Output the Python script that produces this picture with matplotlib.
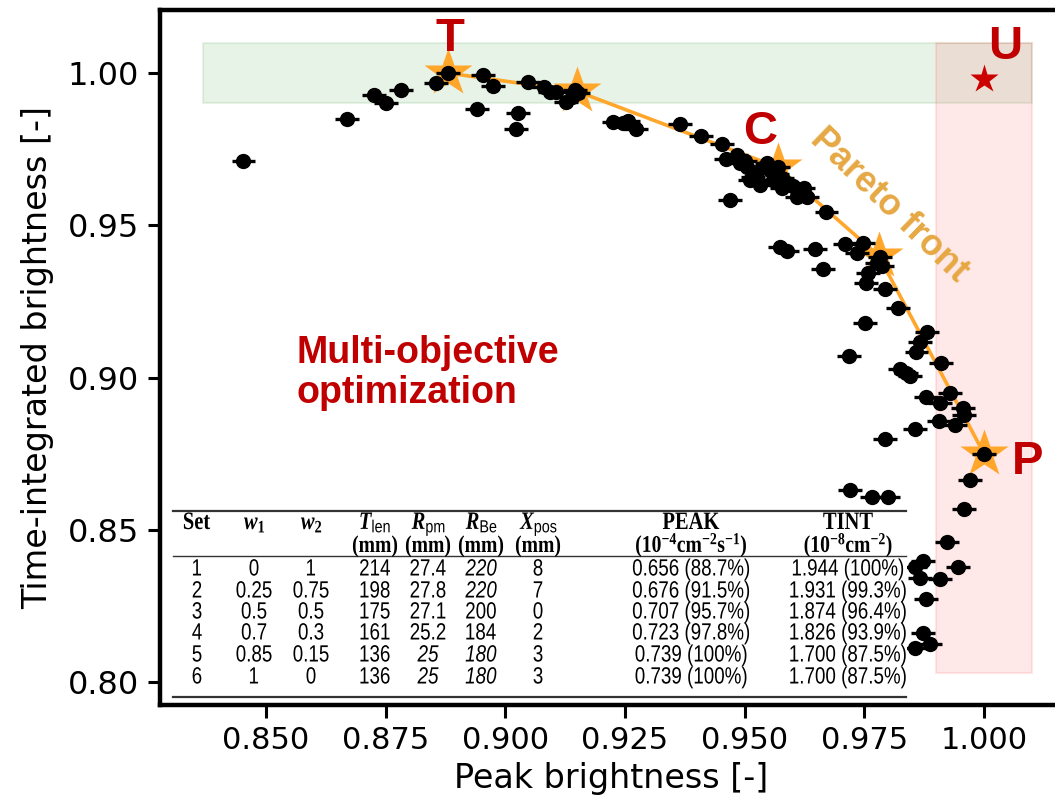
import matplotlib
matplotlib.use("Agg")
import matplotlib.pyplot as plt
from matplotlib.patches import Rectangle, PathPatch
from matplotlib.lines import Line2D
from matplotlib.textpath import TextPath
from matplotlib.font_manager import FontProperties
from matplotlib.transforms import Affine2D, IdentityTransform

plt.rcParams['mathtext.fontset'] = 'custom'
plt.rcParams['mathtext.rm'] = 'Liberation Serif:bold'
plt.rcParams['mathtext.it'] = 'Liberation Serif:bold:italic'
plt.rcParams['mathtext.bf'] = 'Liberation Serif:bold'
plt.rcParams['mathtext.sf'] = 'Liberation Sans'

# ---------------- data ----------------
peak = [0.8453, 0.8669, 0.8726, 0.8750, 0.8783, 0.8855, 0.8880,
        0.8954, 0.8975, 0.8940, 0.9026, 0.9022, 0.9048, 0.9081, 0.9093, 0.9106,
        0.9127, 0.9146, 0.9152, 0.9140,
        0.9226, 0.9245, 0.9257, 0.9274, 0.9365, 0.9408, 0.9452,
        0.9462, 0.9483, 0.9490, 0.9504, 0.9518, 0.9511, 0.9532, 0.9546, 0.9553,
        0.9567, 0.9578, 0.9578, 0.9588, 0.9609, 0.9623, 0.9630, 0.9609, 0.9470,
        0.9500, 0.9540, 0.9560, 0.9600, 0.9620, 0.9570, 0.9525,
        0.9671, 0.9574, 0.9588, 0.9647, 0.9664, 0.9710, 0.9747, 0.9734,
        0.9783, 0.9786, 0.9776, 0.9758, 0.9753, 0.9794, 0.9821, 0.9751, 0.9880,
        0.9866, 0.9859, 0.9718, 0.9911, 0.9824, 0.9845, 0.9838, 0.9878, 0.9929,
        0.9908, 0.9957, 0.9958, 0.9906, 0.9939, 0.9855, 0.9793, 1.0000, 0.9971,
        0.9721, 0.9767, 0.9800, 0.9958, 0.9922, 0.9873, 0.9856, 0.9946, 0.9866,
        0.9908, 0.9879, 0.9872, 0.9888, 0.9856]
tint = [0.9712, 0.9849, 0.9928, 0.9902, 0.9944, 0.9966, 1.0000,
        0.9993, 0.9957, 0.9881, 0.9870, 0.9815, 0.9969, 0.9953, 0.9939, 0.9939,
        0.9906, 0.9944, 0.9933, 0.9920,
        0.9840, 0.9837, 0.9842, 0.9815, 0.9833, 0.9793, 0.9766,
        0.9717, 0.9731, 0.9703, 0.9692, 0.9660, 0.9649, 0.9632, 0.9703, 0.9681,
        0.9670, 0.9654, 0.9621, 0.9638, 0.9616, 0.9621, 0.9594, 0.9594, 0.9583,
        0.9710, 0.9690, 0.9650, 0.9630, 0.9600, 0.9690, 0.9675,
        0.9543, 0.9430, 0.9417, 0.9422, 0.9356, 0.9439, 0.9441, 0.9408,
        0.9397, 0.9365, 0.9375, 0.9342, 0.9309, 0.9290, 0.9227, 0.9180, 0.9150,
        0.9118, 0.9085, 0.9071, 0.9049, 0.9027, 0.9005, 0.9014, 0.8937, 0.8948,
        0.8915, 0.8899, 0.8877, 0.8857, 0.8844, 0.8830, 0.8797, 0.8749, 0.8665,
        0.8630, 0.8609, 0.8606, 0.8567, 0.8459, 0.8398, 0.8379, 0.8379, 0.8343,
        0.8338, 0.8272, 0.8160, 0.8125, 0.8111]
peak_err = 0.0025

pareto_peak = [0.888, 0.915, 0.957, 0.978, 1.000]
pareto_tint = [1.000, 0.994, 0.969, 0.940, 0.875]
utopia = (1.000, 0.998)

green_band = dict(x0=0.8368, x1=1.010, y0=0.990, y1=1.010)
red_band = dict(x0=0.990, x1=1.010, y0=0.803, y1=1.010)

xticks = [0.850, 0.875, 0.900, 0.925, 0.950, 0.975, 1.000]
yticks = [0.80, 0.85, 0.90, 0.95, 1.00]

table_header1 = ['Set', r'$w_1$', r'$w_2$', r'$T_{\mathsf{len}}$', r'$R_{\mathsf{pm}}$',
                 r'$R_{\mathsf{Be}}$', r'$X_{\mathsf{pos}}$', 'PEAK', 'TINT']
table_header2 = ['', '', '', '(mm)', '(mm)', '(mm)', '(mm)',
                 r'(10$^{-4}$cm$^{-2}$s$^{-1}$)', r'(10$^{-8}$cm$^{-2}$)']
table_rows = [
    ['1', '0', '1', '214', '27.4', '220', '8', '0.656 (88.7%)', '1.944 (100%)'],
    ['2', '0.25', '0.75', '198', '27.8', '220', '7', '0.676 (91.5%)', '1.931 (99.3%)'],
    ['3', '0.5', '0.5', '175', '27.1', '200', '0', '0.707 (95.7%)', '1.874 (96.4%)'],
    ['4', '0.7', '0.3', '161', '25.2', '184', '2', '0.723 (97.8%)', '1.826 (93.9%)'],
    ['5', '0.85', '0.15', '136', '25', '180', '3', '0.739 (100%)', '1.700 (87.5%)'],
    ['6', '1', '0', '136', '25', '180', '3', '0.739 (100%)', '1.700 (87.5%)'],
]
table_italic = [
    [False, False, False, False, False, True, False, False, False],
    [False, False, False, False, False, True, False, False, False],
    [False] * 9,
    [False] * 9,
    [False, False, False, False, True, True, False, False, False],
    [False, False, False, False, True, True, False, False, False],
]

# ---------------- figure ----------------
W, H = 1055, 800
fig = plt.figure(figsize=(W / 100, H / 100), dpi=100)
ax = fig.add_axes([160 / W, 1 - 705 / H, (1062 - 160) / W, (705 - 10) / H])
ax.set_xlim(0.82786, 1.0163)
ax.set_ylim(0.79245, 1.0207)

for b, c in ((green_band, 'green'), (red_band, 'red')):
    ax.add_patch(Rectangle((b['x0'], b['y0']), b['x1'] - b['x0'], b['y1'] - b['y0'],
                           facecolor=c, alpha=0.09, edgecolor=c, lw=1.5, zorder=1))

orange = '#FFA62B'
ax.plot(pareto_peak, pareto_tint, '-', color=orange, lw=2.6, zorder=2)
ax.plot(pareto_peak, pareto_tint, '*', color=orange, ms=36, mec='none', zorder=3)
ax.errorbar(peak, tint, xerr=peak_err, fmt='o', color='black', ms=10,
            elinewidth=2.4, capsize=0, zorder=4)
ax.plot([utopia[0]], [utopia[1]], '*', color='#CC0000', ms=21, mec='none', zorder=5)

red = '#C00000'
lab_kw = dict(color=red, fontsize=34, fontweight='bold', family='Liberation Sans',
              ha='center', va='center', zorder=6)
ax.text(0.8884, 1.0112, 'T', **lab_kw)
ax.text(0.9532, 0.9806, 'C', **lab_kw)
ax.text(1.0092, 0.8722, 'P', **lab_kw)
ax.text(1.0044, 1.0085, 'U', **lab_kw)

ax.text(0.9803, 0.9565, 'Pareto front', color='#E6A843', fontsize=26, fontweight='bold',
        family='Liberation Sans', rotation=-44, ha='center', va='center',
        rotation_mode='anchor', zorder=6)
ax.text(0.8563, 0.9015, 'Multi-objective\noptimization', color=red, fontsize=27,
        fontweight='bold', family='Liberation Sans', ha='left', va='center',
        linespacing=1.15, zorder=6)

ax.set_xticks(xticks)
ax.set_xticklabels([f'{v:.3f}' for v in xticks])
ax.set_yticks(yticks)
ax.set_yticklabels([f'{v:.2f}' for v in yticks])
ax.tick_params(axis='x', labelsize=22, length=9, width=2.2, direction='out', pad=6)
ax.tick_params(axis='y', labelsize=23, length=9, width=2.2, direction='out', pad=6)
for s in ax.spines.values():
    s.set_linewidth(3.2)
ax.set_xlabel('Peak brightness [-]', fontsize=24, labelpad=5)
ax.set_ylabel('Time-integrated brightness [-]', fontsize=24, labelpad=10)

# ---------------- table ----------------
def fx(px):
    return px / W

def fy(py):
    return 1 - py / H

fig.patches.append(Rectangle((fx(172), fy(701)), fx(907) - fx(172), fy(506) - fy(701),
                             transform=fig.transFigure, facecolor='white',
                             edgecolor='none', zorder=10))
for yy, lw in ((511, 1.6), (556, 1.0), (697, 1.6)):
    fig.lines.append(Line2D([fx(173), fx(906)], [fy(yy), fy(yy)],
                            transform=fig.transFigure, color='#333333', lw=lw, zorder=11))


def squeezed_text(cx, baseline, s, prop, size_px, sx):
    """Draw text centred at pixel cx (from left) with baseline at pixel row baseline."""
    tp = TextPath((0, 0), s, size=size_px, prop=prop)
    ext = tp.get_extents()
    mid = (ext.x0 + ext.x1) / 2
    tr = (Affine2D().translate(-mid, 0).scale(sx, 1).translate(cx, H - baseline)
          + IdentityTransform())
    patch = PathPatch(tp, facecolor='black', edgecolor='none', lw=0,
                      transform=tr, zorder=12)
    fig.add_artist(patch)


col_x = [197, 254, 311, 375, 428, 481, 538, 691, 848]
hdr_prop = FontProperties(family='Liberation Serif', weight='bold')
for cx, h1, h2 in zip(col_x, table_header1, table_header2):
    squeezed_text(cx, 529, h1, hdr_prop, 25, 0.82)
    if h2:
        squeezed_text(cx, 552, h2, hdr_prop, 24, 0.82)

body_prop = FontProperties(family='Liberation Sans')
body_prop_it = FontProperties(family='Liberation Sans', style='italic')
row_y = [567, 589, 610, 631, 653, 675]
for ry, row, itl in zip(row_y, table_rows, table_italic):
    for cx, val, it in zip(col_x, row, itl):
        squeezed_text(cx, ry + 8.5, val, body_prop_it if it else body_prop, 23.5, 0.8)

fig.savefig('out.png', dpi=100)
